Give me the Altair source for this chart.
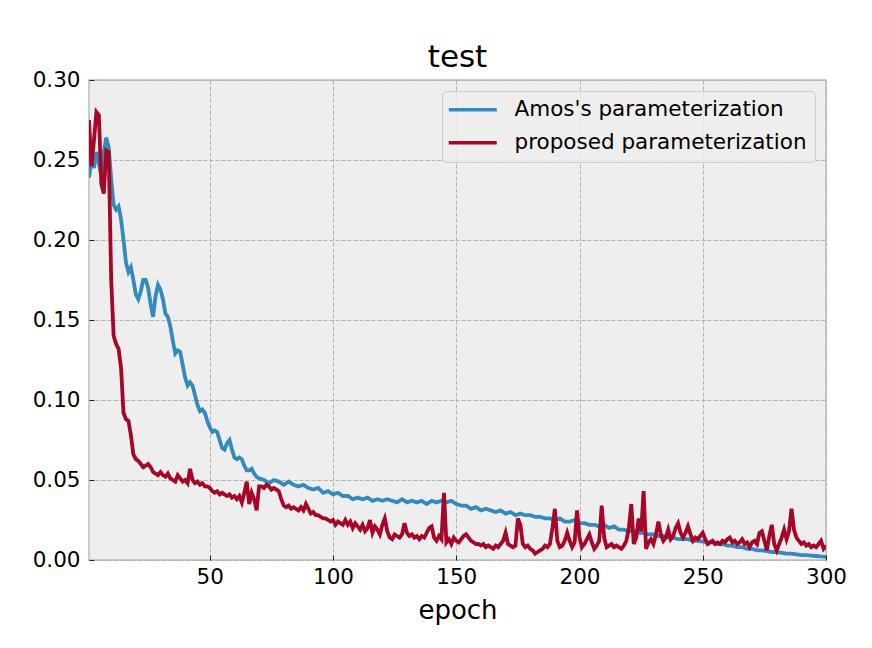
import altair as alt
import pandas as pd

series_names = ["Amos's parameterization", "proposed parameterization"]
series_colors = ["#348ABD", "#A60628"]

epochs_blue = list(range(1, 71)) + list(range(72, 301, 2))
loss_blue = [
    0.239, 0.250, 0.245, 0.255, 0.248, 0.240, 0.255, 0.264, 0.258, 0.238,
    0.222, 0.219, 0.221, 0.213, 0.200, 0.186, 0.180, 0.183, 0.175, 0.166,
    0.163, 0.168, 0.175, 0.175, 0.170, 0.160, 0.152, 0.165, 0.172, 0.169,
    0.163, 0.154, 0.152, 0.146, 0.137, 0.129, 0.131, 0.130, 0.122, 0.114,
    0.109, 0.111, 0.109, 0.103, 0.097, 0.093, 0.094, 0.092, 0.087, 0.083,
    0.080, 0.081, 0.080, 0.075, 0.070, 0.069, 0.073, 0.075, 0.069, 0.064,
    0.063, 0.064, 0.063, 0.059, 0.056, 0.056, 0.057, 0.054, 0.052, 0.051,
    0.050, 0.048, 0.050, 0.049, 0.047, 0.049, 0.047, 0.046, 0.047, 0.045,
    0.044, 0.045, 0.042, 0.043, 0.041, 0.042, 0.040, 0.040, 0.038, 0.039,
    0.038, 0.039, 0.037, 0.038, 0.037, 0.038, 0.037, 0.036, 0.038, 0.036,
    0.037, 0.036, 0.037, 0.035, 0.037, 0.036, 0.037, 0.036, 0.037, 0.035,
    0.034, 0.034, 0.032, 0.033, 0.031, 0.032, 0.031, 0.030, 0.031, 0.029,
    0.030, 0.028, 0.029, 0.028, 0.028, 0.027, 0.027, 0.026, 0.026, 0.025,
    0.026, 0.024, 0.024, 0.025, 0.023, 0.023, 0.022, 0.022, 0.021, 0.022,
    0.020, 0.021, 0.019, 0.019, 0.018, 0.018, 0.017, 0.017, 0.016, 0.016,
    0.015, 0.015, 0.014, 0.014, 0.013, 0.013, 0.013, 0.012, 0.012, 0.0115,
    0.011, 0.011, 0.010, 0.010, 0.009, 0.009, 0.008, 0.008, 0.007, 0.007,
    0.006, 0.006, 0.0055, 0.005, 0.005, 0.0045, 0.004, 0.004, 0.0035, 0.003,
    0.003, 0.0028, 0.0025, 0.0022, 0.002,
]

epochs_red = list(range(1, 301))
loss_red = [
    0.275, 0.246, 0.262, 0.280, 0.278, 0.235, 0.229, 0.256, 0.255, 0.175,
    0.140, 0.135, 0.132, 0.120, 0.092, 0.088, 0.087, 0.078, 0.066, 0.063,
    0.062, 0.060, 0.058, 0.059, 0.060, 0.058, 0.055, 0.054, 0.053, 0.055,
    0.053, 0.052, 0.054, 0.051, 0.050, 0.049, 0.053, 0.051, 0.049, 0.050,
    0.048, 0.057, 0.050, 0.048, 0.049, 0.047, 0.048, 0.046, 0.046, 0.045,
    0.043, 0.042, 0.043, 0.041, 0.042, 0.041, 0.040, 0.041, 0.039, 0.040,
    0.038, 0.040, 0.036, 0.042, 0.049, 0.035, 0.042, 0.038, 0.031, 0.046,
    0.046, 0.045, 0.047, 0.046, 0.044, 0.045, 0.044, 0.043, 0.038, 0.034,
    0.033, 0.034, 0.032, 0.033, 0.032, 0.031, 0.033, 0.031, 0.035, 0.032,
    0.029, 0.030, 0.028, 0.028, 0.027, 0.026, 0.026, 0.025, 0.024, 0.025,
    0.022, 0.024, 0.023, 0.022, 0.025, 0.022, 0.024, 0.020, 0.023, 0.021,
    0.019, 0.022, 0.018, 0.020, 0.025, 0.017, 0.021, 0.019, 0.016, 0.022,
    0.026, 0.018, 0.014, 0.013, 0.016, 0.015, 0.014, 0.016, 0.023, 0.017,
    0.015, 0.016, 0.014, 0.015, 0.013, 0.015, 0.014, 0.017, 0.020, 0.021,
    0.014, 0.012, 0.015, 0.013, 0.042, 0.011, 0.013, 0.010, 0.014, 0.012,
    0.011, 0.013, 0.015, 0.016, 0.014, 0.012, 0.011, 0.010, 0.010, 0.009,
    0.010, 0.008, 0.009, 0.008, 0.007, 0.009, 0.008, 0.010, 0.012, 0.017,
    0.010, 0.009, 0.008, 0.009, 0.026, 0.022, 0.010, 0.008, 0.009, 0.007,
    0.006, 0.004, 0.005, 0.006, 0.007, 0.009, 0.008, 0.010, 0.020, 0.032,
    0.012, 0.008, 0.009, 0.012, 0.017, 0.012, 0.008, 0.011, 0.031, 0.014,
    0.008, 0.010, 0.013, 0.016, 0.011, 0.007, 0.009, 0.012, 0.034, 0.014,
    0.008, 0.009, 0.010, 0.008, 0.009, 0.008, 0.007, 0.009, 0.012, 0.020,
    0.035, 0.010, 0.014, 0.026, 0.018, 0.043, 0.007, 0.011, 0.013, 0.010,
    0.016, 0.024, 0.016, 0.012, 0.014, 0.019, 0.013, 0.015, 0.020, 0.023,
    0.017, 0.014, 0.017, 0.021, 0.016, 0.012, 0.014, 0.013, 0.015, 0.017,
    0.013, 0.010, 0.011, 0.012, 0.010, 0.011, 0.010, 0.012, 0.011, 0.013,
    0.014, 0.011, 0.012, 0.010, 0.011, 0.013, 0.010, 0.011, 0.008, 0.011,
    0.012, 0.010, 0.017, 0.018, 0.012, 0.006, 0.015, 0.022, 0.010, 0.006,
    0.010, 0.014, 0.019, 0.013, 0.018, 0.032, 0.019, 0.014, 0.012, 0.010,
    0.011, 0.009, 0.010, 0.008, 0.009, 0.008, 0.010, 0.012, 0.007, 0.009,
]

x_ticks = [50, 100, 150, 200, 250, 300]
y_ticks = [0.0, 0.05, 0.10, 0.15, 0.20, 0.25, 0.30]

df_blue = pd.DataFrame({"epoch": epochs_blue, "loss": loss_blue, "series": series_names[0]})
df_red = pd.DataFrame({"epoch": epochs_red, "loss": loss_red, "series": series_names[1]})

FONT = "DejaVu Sans"

x_enc = alt.X(
    "epoch:Q",
    scale=alt.Scale(domain=[1, 300], nice=False, zero=False),
    axis=alt.Axis(
        values=x_ticks, title="epoch", offset=-5, tickSize=5, tickColor="#222222",
        tickWidth=1, labelPadding=6, labelFlush=False, labelOverlap=False,
        domain=False, grid=True, titlePadding=10,
    ),
)
y_enc = alt.Y(
    "loss:Q",
    scale=alt.Scale(domain=[0, 0.30], nice=False),
    axis=alt.Axis(
        values=y_ticks, format=".2f", title=None, offset=-5, tickSize=5,
        tickColor="#222222", tickWidth=1, labelPadding=9, labelFlush=False,
        labelOverlap=False, domain=False, grid=True,
    ),
)
color_enc = alt.Color(
    "series:N",
    scale=alt.Scale(domain=series_names, range=series_colors),
    legend=alt.Legend(
        title=None, orient="top-right", offset=11, symbolType="M-1.5,0H4.5",
        symbolSize=256, symbolStrokeWidth=3.5, labelFontSize=21.5, labelFont=FONT,
        labelColor="#000000", labelOffset=43, padding=8, rowPadding=10,
        fillColor="rgba(238,238,238,0.8)", strokeColor="#cccccc", cornerRadius=4,
        labelLimit=400,
    ),
)

blue = alt.Chart(df_blue).mark_line(strokeWidth=3.8, clip=True).encode(x=x_enc, y=y_enc, color=color_enc)
red = alt.Chart(df_red).mark_line(strokeWidth=3.8, clip=True).encode(x=x_enc, y=y_enc, color=color_enc)

chart = (
    alt.layer(blue, red)
    .properties(
        width=737, height=480,
        title=alt.TitleParams("test", fontSize=31, font=FONT, fontWeight="normal",
                              color="#000000", anchor="middle", offset=-5),
        autosize=alt.AutoSizeParams(type="none"),
        padding={"left": 81, "top": 72, "right": 30, "bottom": 70},
        background="#ffffff",
    )
    .configure_view(fill="#eeeeee", stroke="#bcbcbc", strokeWidth=1.5)
    .configure_axis(
        labelFont=FONT, labelFontSize=21.5, labelColor="#000000",
        titleFont=FONT, titleFontSize=26, titleColor="#000000", titleFontWeight="normal",
        gridColor="#b2b2b2", gridDash=[4, 2], gridWidth=1,
    )
)

chart.save("out.html", embed_options={"renderer": "svg", "actions": False})
